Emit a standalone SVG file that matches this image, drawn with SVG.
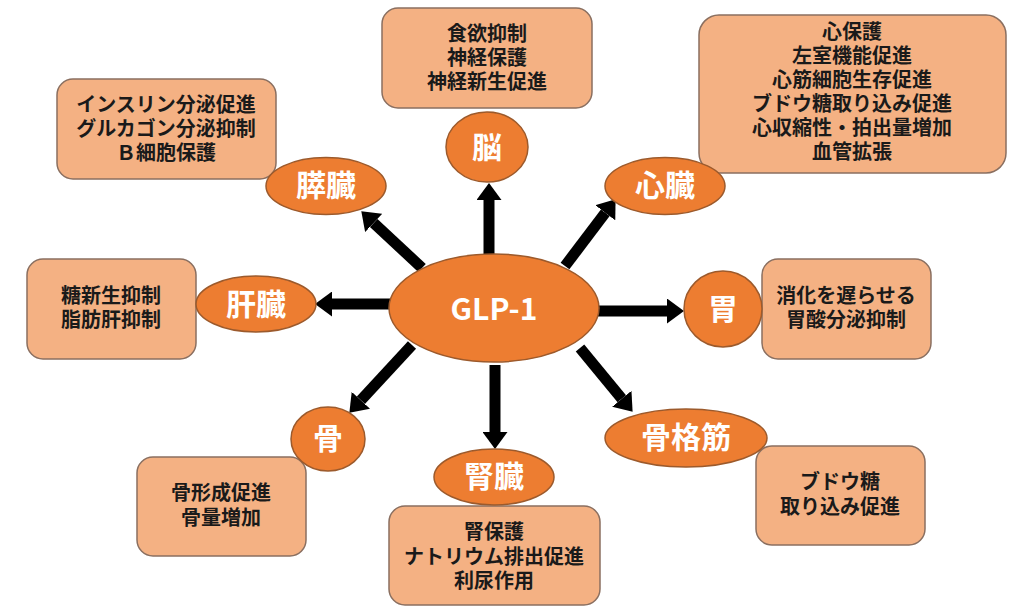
<svg xmlns="http://www.w3.org/2000/svg" width="1024" height="611" viewBox="0 0 1024 611">
<style>
.box{fill:#f4b183;stroke:#8a6f60;stroke-width:1.5}
.ell{fill:#ed7d31;stroke:#9c5a2c;stroke-width:1.5}
.bt{font-family:"Noto Sans CJK JP","Noto Sans",sans-serif;font-weight:bold;font-size:20px;fill:#1a1a1a;text-anchor:middle}
.et{font-family:"Noto Sans CJK JP","Noto Sans",sans-serif;font-weight:bold;font-size:30px;fill:#ffffff;text-anchor:middle}
.arr{stroke:#000;stroke-width:11;fill:none;marker-end:url(#head)}
</style>
<defs>
<marker id="head" viewBox="0 0 17 25" markerWidth="17" markerHeight="25" refX="0" refY="12.5" orient="auto" markerUnits="userSpaceOnUse">
<path d="M0,0 L17,12.5 L0,25 z" fill="#000"/>
</marker>
</defs>
<rect width="1024" height="611" fill="#ffffff"/>
<g id="connectors">
<line class="arr" x1="422" y1="268" x2="373.7" y2="222.9"/>
<line class="arr" x1="489" y1="256" x2="489" y2="200"/>
<line class="arr" x1="565" y1="266" x2="605.3" y2="212.8"/>
<line class="arr" x1="392" y1="304" x2="332" y2="304"/>
<line class="arr" x1="598" y1="311" x2="667" y2="311"/>
<line class="arr" x1="412" y1="345" x2="360.9" y2="400.3"/>
<line class="arr" x1="495" y1="365" x2="495" y2="432"/>
<line class="arr" x1="580" y1="348" x2="621.8" y2="398.7"/>
</g>
<g id="glp1">
<ellipse class="ell" cx="494" cy="308" rx="105" ry="54"/>
<text class="et" x="494" y="320" font-size="35">GLP-1</text>
</g>
<g id="pancreas">
<rect class="box" x="57" y="79" width="219" height="100" rx="16"/>
<text class="bt" x="166" y="112">インスリン分泌促進</text>
<text class="bt" x="166" y="136">グルカゴン分泌抑制</text>
<text class="bt" x="166" y="160">Ｂ細胞保護</text>
<ellipse class="ell" cx="326" cy="186" rx="60" ry="28.5"/>
<text class="et" x="326" y="196">膵臓</text>
</g>
<g id="brain">
<rect class="box" x="382" y="8" width="210" height="100" rx="16"/>
<text class="bt" x="487" y="41">食欲抑制</text>
<text class="bt" x="487" y="65">神経保護</text>
<text class="bt" x="487" y="89">神経新生促進</text>
<ellipse class="ell" cx="487" cy="147" rx="41" ry="35"/>
<text class="et" x="487" y="158">脳</text>
</g>
<g id="heart">
<rect class="box" x="699" y="15" width="307" height="158" rx="20"/>
<text class="bt" x="852" y="39">心保護</text>
<text class="bt" x="852" y="63">左室機能促進</text>
<text class="bt" x="852" y="87">心筋細胞生存促進</text>
<text class="bt" x="852" y="111">ブドウ糖取り込み促進</text>
<text class="bt" x="852" y="135">心収縮性・拍出量増加</text>
<text class="bt" x="852" y="159">血管拡張</text>
<ellipse class="ell" cx="665" cy="186" rx="60" ry="28.5"/>
<text class="et" x="665" y="196">心臓</text>
</g>
<g id="liver">
<rect class="box" x="27" y="259" width="169" height="100" rx="16"/>
<text class="bt" x="111" y="303">糖新生抑制</text>
<text class="bt" x="111" y="327">脂肪肝抑制</text>
<ellipse class="ell" cx="256" cy="304" rx="60" ry="28"/>
<text class="et" x="256" y="315">肝臓</text>
</g>
<g id="stomach">
<rect class="box" x="762" y="259" width="169" height="100" rx="16"/>
<text class="bt" x="846" y="303">消化を遅らせる</text>
<text class="bt" x="846" y="327">胃酸分泌抑制</text>
<ellipse class="ell" cx="723" cy="309" rx="39" ry="38"/>
<text class="et" x="723" y="320">胃</text>
</g>
<g id="bone">
<rect class="box" x="137" y="457" width="169" height="99" rx="16"/>
<text class="bt" x="221" y="500">骨形成促進</text>
<text class="bt" x="221" y="525">骨量増加</text>
<ellipse class="ell" cx="328" cy="439" rx="37" ry="32"/>
<text class="et" x="328" y="449">骨</text>
</g>
<g id="kidney">
<rect class="box" x="389" y="506" width="211" height="99" rx="16"/>
<text class="bt" x="494" y="539">腎保護</text>
<text class="bt" x="494" y="564">ナトリウム排出促進</text>
<text class="bt" x="494" y="588">利尿作用</text>
<ellipse class="ell" cx="494" cy="477" rx="60" ry="28"/>
<text class="et" x="494" y="487">腎臓</text>
</g>
<g id="muscle">
<rect class="box" x="756" y="446" width="169" height="99" rx="16"/>
<text class="bt" x="840" y="489">ブドウ糖</text>
<text class="bt" x="840" y="514">取り込み促進</text>
<ellipse class="ell" cx="686" cy="438" rx="81" ry="29"/>
<text class="et" x="686" y="448">骨格筋</text>
</g>
</svg>
